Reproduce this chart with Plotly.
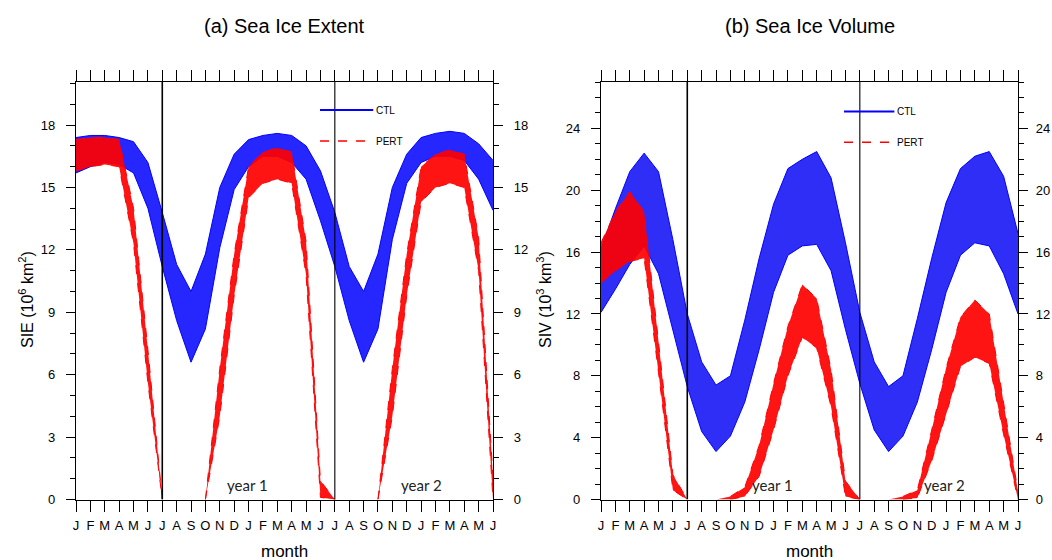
import plotly.graph_objects as go

# ---------------- data ----------------
months = ["J", "F", "M", "A", "M", "J", "J", "A", "S", "O", "N", "D",
          "J", "F", "M", "A", "M", "J", "J", "A", "S", "O", "N", "D",
          "J", "F", "M", "A", "M", "J"]
month_idx = list(range(len(months)))

# Sea ice extent (10^6 km^2): ensemble envelope (upper / lower member)
# None = ice-free months (extent 0, no line drawn along the zero axis)
sie_ctl_upper = [17.4, 17.5, 17.5, 17.4, 17.2, 16.2, 13.8, 11.3, 10.0, 11.8, 15.0, 16.6,
                 17.3, 17.5, 17.6, 17.5, 17.0, 15.8, 13.8, 11.2, 10.0, 11.8, 15.0, 16.6,
                 17.4, 17.6, 17.7, 17.6, 17.1, 16.3]
sie_ctl_lower = [15.7, 16.0, 16.2, 16.1, 15.7, 14.0, 11.2, 8.6, 6.6, 8.2, 12.1, 14.9,
                 16.0, 16.5, 16.5, 16.2, 15.4, 13.4, 11.2, 8.6, 6.6, 8.2, 12.5, 15.2,
                 16.2, 16.5, 16.5, 16.3, 15.4, 13.9]
sie_pert_upper = [17.3, 17.4, 17.4, 17.3, 14.0, 7.2, 0.0, None, None, 0.0, 6.3, 11.8,
                  16.0, 16.7, 16.9, 16.7, 12.4, 0.9, 0.0, None, None, 0.0, 6.3, 11.8,
                  16.0, 16.6, 16.8, 16.6, 12.6, 1.0]
sie_pert_lower = [15.8, 16.0, 16.1, 16.0, 12.3, 5.6, 0.0, None, None, 0.0, 4.0, 9.8,
                  14.5, 15.2, 15.4, 15.2, 10.8, 0.1, 0.0, None, None, 0.0, 4.0, 9.8,
                  14.3, 15.0, 15.2, 15.0, 11.0, 0.0]

# Sea ice volume (10^3 km^3)
siv_ctl_upper = [16.2, 18.8, 21.2, 22.4, 21.2, 16.8, 12.0, 8.9, 7.4, 8.0, 11.6, 15.6,
                 19.1, 21.4, 22.0, 22.5, 20.8, 16.6, 12.1, 8.9, 7.3, 8.0, 11.7, 15.6,
                 19.2, 21.4, 22.2, 22.5, 20.9, 17.2]
siv_ctl_lower = [12.1, 13.6, 15.2, 16.4, 14.6, 11.0, 7.3, 4.4, 3.1, 4.1, 6.3, 9.7,
                 13.4, 15.8, 16.4, 16.5, 14.8, 11.0, 7.5, 4.5, 3.1, 4.1, 6.3, 9.7,
                 13.4, 15.8, 16.6, 16.4, 14.6, 12.0]
siv_pert_upper = [16.6, 18.6, 19.9, 18.6, 10.2, 1.6, 0.0, None, None, 0.2, 0.8, 3.5,
                  7.5, 11.2, 13.9, 13.0, 8.4, 1.2, 0.0, None, None, 0.2, 0.6, 4.5,
                  8.5, 11.8, 12.9, 12.0, 6.2, 0.5]
siv_pert_lower = [14.0, 14.8, 15.4, 15.6, 8.2, 0.6, 0.0, None, None, 0.0, 0.2, 1.5,
                  4.5, 8.0, 10.5, 9.8, 6.0, 0.2, 0.0, None, None, 0.0, 0.1, 2.5,
                  5.5, 8.6, 9.2, 8.8, 4.2, 0.0]

panel_titles = ["(a) Sea Ice Extent", "(b) Sea Ice Volume"]
y_titles = ["SIE (10<sup>6</sup> km<sup>2</sup>)", "SIV (10<sup>3</sup> km<sup>3</sup>)"]
series_names = ["CTL", "PERT"]
year_labels = ["year 1", "year 2"]

# ---------------- figure ----------------
W, H = 1052, 560
FONT = "Liberation Sans, Arial, Helvetica, sans-serif"
BLUE = "#0000ff"
RED = "#ff0000"

fig = go.Figure()


def ice_free_as_zero(vals):
    return [0.0 if v is None else v for v in vals]


def band(xa, ya, lower, upper, color, fill, dash, width):
    # filled envelope (ice-free months count as zero)
    fig.add_trace(go.Scatter(x=month_idx, y=ice_free_as_zero(lower), xaxis=xa, yaxis=ya,
                             mode="lines", line=dict(width=0, color=color),
                             showlegend=False, hoverinfo="skip"))
    fig.add_trace(go.Scatter(x=month_idx, y=ice_free_as_zero(upper), xaxis=xa, yaxis=ya,
                             mode="lines", line=dict(width=0, color=color),
                             fill="tonexty", fillcolor=fill,
                             showlegend=False, hoverinfo="skip"))
    # envelope members drawn as lines
    for vals in (lower, upper):
        fig.add_trace(go.Scatter(x=month_idx, y=vals, xaxis=xa, yaxis=ya, mode="lines",
                                 line=dict(color=color, width=width, dash=dash),
                                 connectgaps=False, showlegend=False, hoverinfo="skip"))


# panel a
band("x", "y", sie_ctl_lower, sie_ctl_upper, BLUE, "rgba(0,0,255,0.85)", "solid", 1)
band("x", "y", sie_pert_lower, sie_pert_upper, RED, "rgba(255,0,0,0.92)", "dash", 1)
# panel b
band("x2", "y3", siv_ctl_lower, siv_ctl_upper, BLUE, "rgba(0,0,245,0.82)", "solid", 1)
band("x2", "y3", siv_pert_lower, siv_pert_upper, RED, "rgba(255,0,0,0.92)", "dash", 1)

# invisible traces so the right-hand axes render
fig.add_trace(go.Scatter(x=[0], y=[0], xaxis="x", yaxis="y2", mode="markers",
                         marker=dict(opacity=0), showlegend=False, hoverinfo="skip"))
fig.add_trace(go.Scatter(x=[0], y=[0], xaxis="x2", yaxis="y4", mode="markers",
                         marker=dict(opacity=0), showlegend=False, hoverinfo="skip"))

# geometry (pixels)
ax_left = [76, 601]
ax_right = [493, 1018]
ax_top, ax_bot = 82, 499.5
dom = [[l / W, r / W] for l, r in zip(ax_left, ax_right)]
ydom = [1 - ax_bot / H, 1 - ax_top / H]

tickfont = dict(family=FONT, size=13, color="black")

xcommon = dict(range=[0, 29], tickvals=month_idx, ticktext=months, ticks="outside",
               ticklen=11, tickwidth=1.2, tickcolor="black", showline=True, linecolor="black",
               linewidth=1.3, mirror="ticks", showgrid=False, zeroline=False,
               tickfont=tickfont, layer="above traces", automargin=False,
               ticklabelstandoff=3)

yranges = [[0, 20.07], [0, 27.0]]
ydticks = [3, 4]
yminor = [1, 1]
left_standoff = [8, 8]
right_standoff = [8, 5]

layout = dict(
    width=W, height=H, margin=dict(l=0, r=0, t=0, b=0, pad=0, autoexpand=False),
    paper_bgcolor="white", plot_bgcolor="white", showlegend=False,
    font=dict(family=FONT, color="black"),
    xaxis=dict(domain=dom[0], anchor="y", **xcommon),
    xaxis2=dict(domain=dom[1], anchor="y3", **xcommon),
)

for k, (ln, rn, xa) in enumerate([("yaxis", "yaxis2", "x"), ("yaxis3", "yaxis4", "x2")]):
    base = dict(range=yranges[k], dtick=ydticks[k], tick0=0, ticks="outside", ticklen=9,
                tickwidth=1.2, tickcolor="black", showline=True, linecolor="black",
                linewidth=1.3, showgrid=False, zeroline=False, tickfont=tickfont,
                layer="above traces", automargin=False,
                minor=dict(dtick=yminor[k], tick0=0, ticks="outside", ticklen=5,
                           tickcolor="black", tickwidth=1, showgrid=False))
    layout[ln] = dict(domain=ydom, anchor=xa, side="left",
                      ticklabelstandoff=left_standoff[k], **base)
    layout[rn] = dict(overlaying=ln.replace("axis", ""), anchor=xa, side="right",
                      ticklabelstandoff=right_standoff[k], **base)

fig.update_layout(**layout)

# vertical separators at July
shapes = []
for k, xa in enumerate(["x", "x2"]):
    ya = "y" if k == 0 else "y3"
    for j, mi in enumerate([6, 18]):
        shapes.append(dict(type="line", xref=xa, yref=ya, x0=mi, x1=mi,
                           y0=yranges[k][0], y1=yranges[k][1],
                           line=dict(color="black", width=1.6 if j == 0 else 1.1),
                           layer="above"))

# legends drawn inside the panels
leg_x = [[16.97, 20.67], [16.9, 20.4]]
leg_y = [[18.72, 17.23], [25.1, 23.1]]
annotations = []
for k, xa in enumerate(["x", "x2"]):
    ya = "y" if k == 0 else "y3"
    for s, (name, col, dash) in enumerate([(series_names[0], BLUE, "solid"),
                                           (series_names[1], RED, "dash")]):
        shapes.append(dict(type="line", xref=xa, yref=ya, x0=leg_x[k][0], x1=leg_x[k][1],
                           y0=leg_y[k][s], y1=leg_y[k][s],
                           line=dict(color=col, width=2 if s == 0 else 1.5, dash=dash)))
        annotations.append(dict(xref=xa, yref=ya, x=leg_x[k][1], y=leg_y[k][s], text=name,
                                showarrow=False, xanchor="left", yanchor="middle", xshift=1,
                                font=dict(family=FONT, size=10, color="black")))

# year labels
year_pos = [[11.9, 24.0], [11.95, 23.9]]
year_y = [0.68, 0.97]
for k, xa in enumerate(["x", "x2"]):
    ya = "y" if k == 0 else "y3"
    for j, lab in enumerate(year_labels):
        annotations.append(dict(xref=xa, yref=ya, x=year_pos[k][j], y=year_y[k], text=lab,
                                showarrow=False, xanchor="center", yanchor="middle",
                                font=dict(family="Lato, Open Sans, sans-serif", size=15,
                                          color="#222222")))

# titles and axis titles
for k in range(2):
    cx = (ax_left[k] + ax_right[k]) / 2 / W
    annotations.append(dict(xref="paper", yref="paper", x=cx, y=1 - 26 / H,
                            text=panel_titles[k], showarrow=False, xanchor="center",
                            yanchor="middle", font=dict(family=FONT, size=20, color="black")))
    annotations.append(dict(xref="paper", yref="paper", x=cx, y=1 - 551 / H, text="month",
                            showarrow=False, xanchor="center", yanchor="middle",
                            font=dict(family=FONT, size=17, color="black")))
ytitle_x = [26, 544]
for k in range(2):
    annotations.append(dict(xref="paper", yref="paper", x=ytitle_x[k] / W, y=1 - 300 / H,
                            text=y_titles[k], textangle=-90, showarrow=False,
                            xanchor="center", yanchor="middle",
                            font=dict(family=FONT, size=16, color="black")))

fig.update_layout(shapes=shapes, annotations=annotations)
fig.write_html("out.html", config={"displayModeBar": False},
               post_script="document.body.style.margin='0';document.body.style.overflow='hidden';")
